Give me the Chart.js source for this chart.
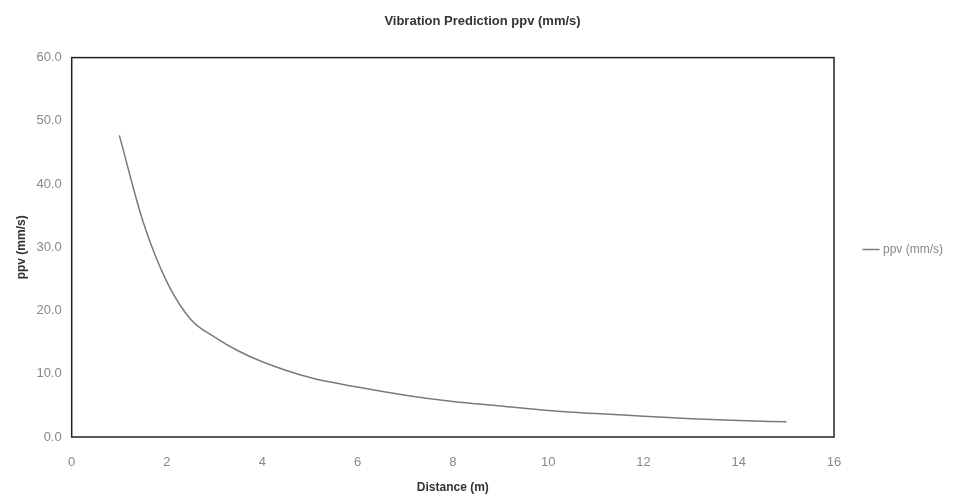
<!DOCTYPE html>
<html lang="en">
<head>
    <meta charset="UTF-8">
    <title>Vibration Prediction</title>
    <script src="https://cdn.jsdelivr.net/npm/chart.js"></script>
    <style>
        body {
            margin: 0;
            background: #fff;
        }
        #wrap {
            width: 959px;
            height: 495px;
        }
    </style>
</head>
<body>
    <div id="wrap"><canvas id="ppvChart"></canvas></div>

    <script>
        // distance (m) and predicted ppv (mm/s)
        const distances = [1, 1.5, 2, 2.5, 3, 3.5, 4, 5, 6, 7, 8, 9, 10, 11, 12, 13, 14, 15];
        const ppvValues = [47.7, 34.0, 24.5, 18.6, 15.8, 13.6, 11.9, 9.4, 7.9, 6.6, 5.6, 4.9, 4.2, 3.7, 3.3, 2.9, 2.6, 2.4];
        const xTicks = [0, 2, 4, 6, 8, 10, 12, 14, 16];
        const yTicks = [0, 10, 20, 30, 40, 50, 60];

        const points = distances.map((d, i) => ({ x: d, y: ppvValues[i] }));

        // box around the plot area
        const frame = {
            id: "frame",
            afterDraw(chart) {
                const a = chart.chartArea;
                const ctx = chart.ctx;
                ctx.save();
                ctx.strokeStyle = "#222";
                ctx.lineWidth = 1.5;
                ctx.strokeRect(a.left, a.top, a.right - a.left, a.bottom - a.top);
                ctx.restore();
            }
        };

        Chart.defaults.font.family = "'Liberation Sans', Arial, sans-serif";

        new Chart(document.getElementById("ppvChart"), {
            type: "scatter",
            data: {
                datasets: [{
                    label: "ppv (mm/s)",
                    data: points,
                    showLine: true,
                    borderColor: "#7a7a7a",
                    backgroundColor: "#7a7a7a",
                    borderWidth: 1.5,
                    pointRadius: 0,
                    cubicInterpolationMode: "monotone"
                }]
            },
            options: {
                responsive: true,
                maintainAspectRatio: false,
                animation: false,
                layout: { padding: { top: 4, right: 6, bottom: 0, left: 12 } },
                plugins: {
                    title: {
                        display: true,
                        text: "Vibration Prediction ppv (mm/s)",
                        color: "#333",
                        font: { size: 13, weight: "bold" },
                        padding: { top: 10, bottom: 28 }
                    },
                    legend: {
                        position: "right",
                        labels: {
                            usePointStyle: true,
                            pointStyle: "line",
                            boxWidth: 20,
                            color: "#888",
                            font: { size: 12 },
                            padding: 31
                        }
                    },
                    tooltip: { enabled: false }
                },
                scales: {
                    x: {
                        type: "linear",
                        min: 0,
                        max: 16,
                        afterBuildTicks: axis => { axis.ticks = xTicks.map(v => ({ value: v })); },
                        grid: { display: false },
                        border: { display: false },
                        ticks: { color: "#888", font: { size: 13 }, padding: 10 },
                        title: {
                            display: true,
                            text: "Distance (m)",
                            color: "#333",
                            font: { size: 12, weight: "bold" },
                            padding: { top: 0, bottom: 0 }
                        }
                    },
                    y: {
                        min: 0,
                        max: 60,
                        afterBuildTicks: axis => { axis.ticks = yTicks.map(v => ({ value: v })); },
                        grid: { display: false },
                        border: { display: false },
                        ticks: {
                            color: "#888",
                            font: { size: 13 },
                            padding: 2,
                            callback: v => v.toFixed(1)
                        },
                        title: {
                            display: true,
                            text: "ppv (mm/s)",
                            color: "#333",
                            font: { size: 12, weight: "bold" },
                            padding: { top: 2, bottom: 6 }
                        }
                    }
                }
            },
            plugins: [frame]
        });
    </script>
</body>
</html>
